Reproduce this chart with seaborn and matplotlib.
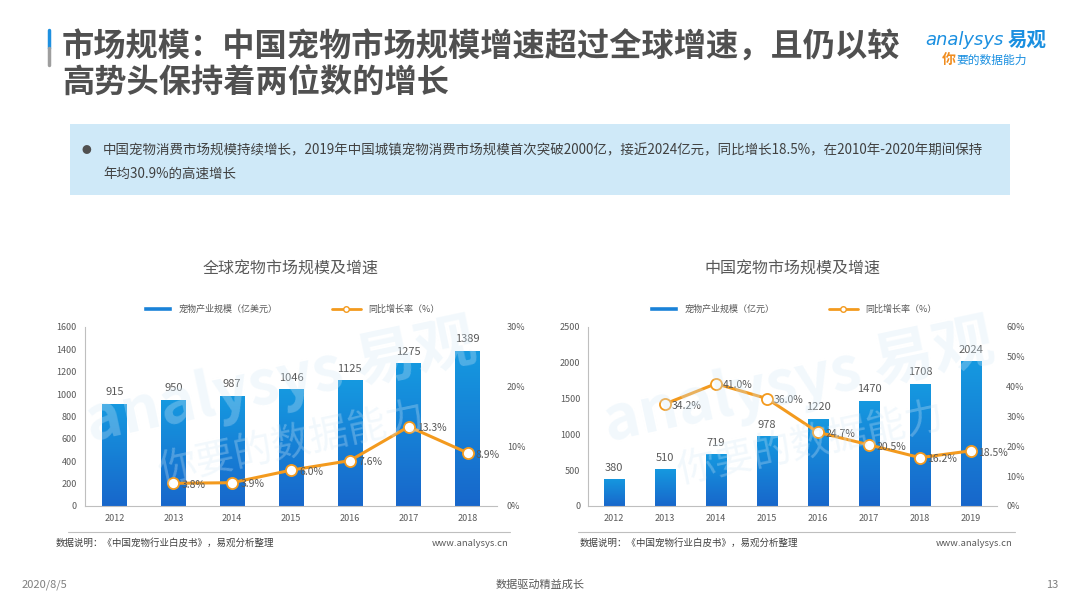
import numpy as np
import pandas as pd
import matplotlib
matplotlib.use("Agg")
import matplotlib.pyplot as plt
import seaborn as sns
from matplotlib.colors import LinearSegmentedColormap
from matplotlib.lines import Line2D
from matplotlib.patches import Rectangle

# global pet market
global_years = ["2012", "2013", "2014", "2015", "2016", "2017", "2018"]
global_size = [915, 950, 987, 1046, 1125, 1275, 1389]
global_growth_years = ["2013", "2014", "2015", "2016", "2017", "2018"]
global_growth = [3.8, 3.9, 6.0, 7.6, 13.3, 8.9]

# china pet market
china_years = ["2012", "2013", "2014", "2015", "2016", "2017", "2018", "2019"]
china_size = [380, 510, 719, 978, 1220, 1470, 1708, 2024]
china_growth_years = ["2013", "2014", "2015", "2016", "2017", "2018", "2019"]
china_growth = [34.2, 41.0, 36.0, 24.7, 20.5, 16.2, 18.5]

sns.set_theme(style="white")
plt.rcParams["font.family"] = ["Noto Sans CJK SC", "DejaVu Sans"]

BLUE_TOP = "#1599e0"
BLUE_BOT = "#1867cb"
ORANGE = "#f39a1e"
GRAY = "#595959"
bar_cmap = LinearSegmentedColormap.from_list("bar", [BLUE_BOT, BLUE_TOP])

fig = plt.figure(figsize=(10.8, 6.08), dpi=100)


def gradient_bars(ax):
    grad = np.linspace(0, 1, 128).reshape(-1, 1)
    for p in ax.patches:
        x0, y0 = p.get_x(), p.get_y()
        w, h = p.get_width(), p.get_height()
        p.set_facecolor("none")
        im = ax.imshow(grad, cmap=bar_cmap, aspect="auto", origin="lower",
                       extent=[x0, x0 + w, y0, y0 + h], zorder=2)
        im.set_clip_path(p)


def draw_chart(rect, years, sizes, g_years, growth, ymax, ystep, gmax,
               title, unit_label, bar_width):
    ax = fig.add_axes(rect)
    df = pd.DataFrame({"year": years, "size": sizes})
    sns.barplot(data=df, x="year", y="size", color=BLUE_TOP, width=bar_width,
                ax=ax, zorder=2)
    gradient_bars(ax)
    ax.set_xlim(-0.5, len(years) - 0.5)
    ax.set_ylim(0, ymax)
    ax.set_yticks(np.arange(0, ymax + 1, ystep))
    ax.set_xlabel("")
    ax.set_ylabel("")
    ax.tick_params(axis="both", labelsize=6.5, labelcolor=GRAY, length=0, pad=6)
    for s in ["top", "right"]:
        ax.spines[s].set_visible(False)
    for s in ["left", "bottom"]:
        ax.spines[s].set_color("#bfbfbf")
        ax.spines[s].set_linewidth(0.8)
    for i, v in enumerate(sizes):
        ax.text(i, v + ymax * 0.035, f"{v}", ha="center", va="bottom",
                fontsize=8, color=GRAY)

    ax2 = ax.twinx()
    gdf = pd.DataFrame({"x": [years.index(y) for y in g_years], "g": growth})
    sns.lineplot(data=gdf, x="x", y="g", color=ORANGE, linewidth=2.2,
                 marker="o", markersize=8, markerfacecolor="white",
                 markeredgecolor=ORANGE, markeredgewidth=1.3, ax=ax2, zorder=5)
    ax2.set_ylim(0, gmax)
    ax2.set_yticks(np.linspace(0, gmax, 7 if gmax == 60 else 4))
    ax2.set_yticklabels([f"{v:.0f}%" for v in ax2.get_yticks()])
    ax2.set_xlabel("")
    ax2.set_ylabel("")
    ax2.tick_params(axis="y", labelsize=6.5, labelcolor=GRAY, length=0, pad=7)
    for s in ["top", "right", "left", "bottom"]:
        ax2.spines[s].set_visible(False)
    for xi, g in zip(gdf["x"], growth):
        ax2.text(xi + 0.14, g - gmax * 0.01, f"{g:.1f}%", ha="left", va="center",
                 fontsize=7.5, color=GRAY, zorder=6)

    handles = [Rectangle((0, 0), 1, 1, facecolor="#1a82d8"),
               Line2D([0], [0], color=ORANGE, linewidth=2, marker="o",
                      markersize=4, markerfacecolor="white",
                      markeredgecolor=ORANGE)]
    ax.legend(handles, [unit_label, "同比增长率（%）"], ncol=2,
              loc="center", bbox_to_anchor=(0.5, 1.1), frameon=False,
              fontsize=6.5, handlelength=3.2, handleheight=0.5,
              columnspacing=6, labelcolor=GRAY)
    ax.set_title(title, fontsize=11.5, color=GRAY, y=1.25)
    return ax


draw_chart([0.0787, 0.1678, 0.3815, 0.2944], global_years, global_size,
           global_growth_years, global_growth, 1600, 200, 30,
           "全球宠物市场规模及增速", "宠物产业规模（亿美元）", 0.42)
draw_chart([0.5449, 0.1678, 0.3778, 0.2944], china_years, china_size,
           china_growth_years, china_growth, 2500, 500, 60,
           "中国宠物市场规模及增速", "宠物产业规模（亿元）", 0.40)

# watermarks
for cx in [0.26, 0.74]:
    fig.text(cx, 0.37, "analysys 易观", fontsize=44, color="#d4e9f7",
             alpha=0.3, rotation=12, ha="center", va="center",
             fontweight="bold", zorder=10)
    fig.text(cx + 0.01, 0.27, "你要的数据能力", fontsize=28, color="#d4e9f7",
             alpha=0.3, rotation=12, ha="center", va="center", zorder=10)

# page title + accent bar
fig.add_artist(Line2D([49 / 1080, 49 / 1080], [1 - 30 / 608, 1 - 48 / 608],
                      color="#1e90e0", linewidth=2.5))
fig.add_artist(Line2D([49 / 1080, 49 / 1080], [1 - 48 / 608, 1 - 65 / 608],
                      color="#9e9e9e", linewidth=2.5))
fig.text(62 / 1080, 1 - 47 / 608, "市场规模：中国宠物市场规模增速超过全球增速，且仍以较",
         fontsize=23.2, color="#505050", fontweight="bold", va="center")
fig.text(62 / 1080, 1 - 83 / 608, "高势头保持着两位数的增长",
         fontsize=23.2, color="#505050", fontweight="bold", va="center")

# logo
fig.text(925 / 1080, 1 - 40 / 608, "analysys", fontsize=13, color="#1a8fe0",
         style="italic", va="center", family=["DejaVu Sans"])
fig.text(1008 / 1080, 1 - 40 / 608, "易观", fontsize=14, color="#1a8fe0",
         fontweight="bold", va="center")
fig.text(942 / 1080, 1 - 60 / 608, "你", fontsize=10, color="#f08c1e",
         fontweight="bold", va="center")
fig.text(956 / 1080, 1 - 60 / 608, "要的数据能力", fontsize=8.5, color="#1a8fe0",
         va="center")

# info box
fig.add_artist(Rectangle((70 / 1080, 1 - 195 / 608), 940 / 1080, 71 / 608,
                         facecolor="#cfe9f8", edgecolor="none",
                         transform=fig.transFigure, zorder=0))
fig.text(82 / 1080, 1 - 150 / 608, "●", fontsize=7, color="#505050", va="center")
fig.text(103 / 1080, 1 - 150 / 608,
         "中国宠物消费市场规模持续增长，2019年中国城镇宠物消费市场规模首次突破2000亿，接近2024亿元，同比增长18.5%，在2010年-2020年期间保持",
         fontsize=9.7, color="#404040", va="center")
fig.text(103 / 1080, 1 - 174 / 608, "年均30.9%的高速增长",
         fontsize=9.7, color="#404040", va="center")

# source lines
for x0, x1, tx in [(68, 510, 56), (578, 1015, 580)]:
    fig.add_artist(Line2D([x0 / 1080, x1 / 1080], [1 - 532 / 608] * 2,
                          color="#bfbfbf", linewidth=0.8))
    fig.text(tx / 1080, 1 - 543 / 608, "数据说明：《中国宠物行业白皮书》，易观分析整理",
             fontsize=6.8, color="#404040", va="center")
    fig.text((x1 - 2) / 1080, 1 - 543 / 608, "www.analysys.cn", fontsize=6.8,
             color="#595959", va="center", ha="right")

# footer
fig.text(22 / 1080, 1 - 585 / 608, "2020/8/5", fontsize=8, color="#7f7f7f", va="center")
fig.text(540 / 1080, 1 - 585 / 608, "数据驱动精益成长", fontsize=8, color="#595959",
         va="center", ha="center")
fig.text(1058 / 1080, 1 - 585 / 608, "13", fontsize=8, color="#7f7f7f",
         va="center", ha="right")

fig.savefig("out.png", dpi=100)
